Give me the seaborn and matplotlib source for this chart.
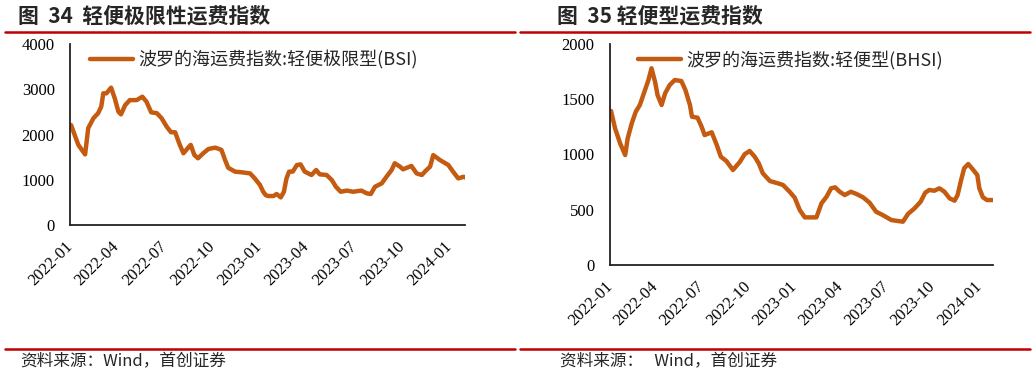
import matplotlib
matplotlib.use("Agg")
import matplotlib.pyplot as plt
import matplotlib.dates as mdates
from matplotlib.lines import Line2D
import pandas as pd
import seaborn as sns

# ---------------- data ----------------
bsi_dates = ["2022-01-03","2022-01-17","2022-01-30","2022-02-05","2022-02-15","2022-02-24","2022-03-02","2022-03-06","2022-03-12","2022-03-21",
             "2022-03-28","2022-04-04","2022-04-09","2022-04-17","2022-04-26","2022-05-09","2022-05-20","2022-05-28","2022-06-06","2022-06-17",
             "2022-06-26","2022-07-06","2022-07-14","2022-07-22","2022-07-31","2022-08-07","2022-08-15","2022-08-21","2022-08-28","2022-09-04",
             "2022-09-14","2022-09-24","2022-10-07","2022-10-19","2022-10-26","2022-11-01","2022-11-14","2022-11-27","2022-12-13","2022-12-22",
             "2023-01-01","2023-01-07","2023-01-12","2023-01-17","2023-01-27","2023-02-02","2023-02-10","2023-02-16","2023-02-21","2023-02-26",
             "2023-03-05","2023-03-13","2023-03-20","2023-03-28","2023-04-10","2023-04-19","2023-04-26","2023-05-09","2023-05-19","2023-05-27",
             "2023-06-05","2023-06-17","2023-06-29","2023-07-15","2023-07-25","2023-08-02","2023-08-10","2023-08-23","2023-09-01","2023-09-11",
             "2023-09-17","2023-09-27","2023-10-03","2023-10-19","2023-10-29","2023-11-08","2023-11-17","2023-11-24","2023-11-30","2023-12-13",
             "2023-12-29","2024-01-07","2024-01-17","2024-01-27","2024-01-31"]
bsi_values = [2210,1770,1560,2140,2360,2470,2615,2910,2910,3035,
              2800,2505,2445,2650,2760,2760,2835,2725,2490,2470,
              2360,2170,2050,2050,1770,1585,1695,1770,1545,1475,
              1585,1680,1710,1660,1435,1265,1180,1165,1140,1030,
              885,740,660,640,640,685,610,735,1030,1180,
              1180,1325,1340,1180,1105,1215,1120,1105,995,845,
              735,760,735,760,700,685,845,920,1065,1215,
              1365,1290,1230,1305,1140,1105,1215,1290,1545,1435,
              1325,1180,1030,1065,1050]

bhsi_dates = ["2022-01-03","2022-01-11","2022-01-21","2022-01-31","2022-02-05","2022-02-13","2022-02-21","2022-03-01","2022-03-10","2022-03-18",
              "2022-03-24","2022-03-31","2022-04-05","2022-04-13","2022-04-20","2022-04-29","2022-05-09","2022-05-22","2022-05-30","2022-06-08",
              "2022-06-12","2022-06-23","2022-07-01","2022-07-07","2022-07-21","2022-07-31","2022-08-08","2022-08-19","2022-09-01","2022-09-15",
              "2022-09-24","2022-10-04","2022-10-14","2022-10-22","2022-10-30","2022-11-13","2022-11-29","2022-12-09","2022-12-22","2023-01-01",
              "2023-01-11","2023-01-21","2023-01-31","2023-02-13","2023-02-23","2023-03-05","2023-03-14","2023-03-22","2023-03-31","2023-04-10",
              "2023-04-22","2023-05-03","2023-05-16","2023-05-29","2023-06-11","2023-06-24","2023-07-11","2023-07-24","2023-08-03","2023-08-13",
              "2023-08-26","2023-09-07","2023-09-16","2023-09-24","2023-10-04","2023-10-14","2023-10-24","2023-11-03","2023-11-13","2023-11-19",
              "2023-11-26","2023-12-02","2023-12-10","2023-12-19","2023-12-28","2024-01-01","2024-01-08","2024-01-16","2024-01-27"]
bhsi_values = [1394,1237,1101,995,1147,1282,1388,1448,1568,1674,
               1780,1659,1538,1448,1554,1629,1674,1665,1584,1448,
               1342,1333,1252,1176,1201,1086,980,941,860,935,
               1002,1032,980,920,830,760,739,724,663,610,
               498,431,431,431,558,618,694,703,663,633,
               663,643,613,564,482,452,407,398,392,462,
               513,573,654,679,672,694,663,604,582,633,
               769,875,914,866,814,694,613,588,588]

tick_dates = ["2022-01-01","2022-04-01","2022-07-01","2022-10-01","2023-01-01",
              "2023-04-01","2023-07-01","2023-10-01","2024-01-01"]

titles = ["图  34  轻便极限性运费指数", "图  35 轻便型运费指数"]
legend_labels = ["波罗的海运费指数:轻便极限型(BSI)", "波罗的海运费指数:轻便型(BHSI)"]
sources = ["资料来源：Wind，首创证券", "资料来源：   Wind，首创证券"]

# ---------------- style ----------------
sns.set_style("white")
plt.rcParams['font.family'] = ['Liberation Serif', 'Noto Sans CJK SC', 'DejaVu Sans']
CJK = ['Noto Sans CJK SC', 'DejaVu Sans']
LINE_C = '#C55A11'
RED = '#C00000'

fig = plt.figure(figsize=(10.36, 3.77), dpi=100)
W, H = 1036, 377

def fx(px):
    return px / W

def fy(py):
    return 1 - py / H

panels = [
    dict(dates=bsi_dates, vals=bsi_values, x0=70, x1=465, ytop=44, ybot=225,
         ymax=4000, ystep=1000, xend="2024-01-30", leg=(90, 60)),
    dict(dates=bhsi_dates, vals=bhsi_values, x0=610, x1=993, ytop=44, ybot=265,
         ymax=2000, ystep=500, xend="2024-01-28", leg=(638, 60)),
]

for i, p in enumerate(panels):
    ax = fig.add_axes([fx(p['x0']), fy(p['ybot']), fx(p['x1'] - p['x0']), (p['ybot'] - p['ytop']) / H])
    df = pd.DataFrame({'date': pd.to_datetime(p['dates']), 'value': p['vals']})
    sns.lineplot(data=df, x='date', y='value', ax=ax, color=LINE_C, linewidth=3.2,
                 label=legend_labels[i])
    ax.set_xlim(pd.Timestamp("2022-01-01"), pd.Timestamp(p['xend']))
    ax.set_ylim(0, p['ymax'])
    ax.set_yticks(list(range(0, p['ymax'] + 1, p['ystep'])))
    ax.set_xticks(pd.to_datetime(tick_dates))
    ax.xaxis.set_major_formatter(mdates.DateFormatter('%Y-%m'))
    ax.set_xlabel('')
    ax.set_ylabel('')
    for s in ['top', 'right']:
        ax.spines[s].set_visible(False)
    for s in ['left', 'bottom']:
        ax.spines[s].set_color('#222222')
        ax.spines[s].set_linewidth(1.3)
    ax.tick_params(axis='both', direction='in', length=4, width=1.2, color='#222222',
                   labelsize=12, labelcolor='black')
    ax.tick_params(axis='y', pad=11)
    ax.tick_params(axis='x', pad=14)
    for lab in ax.get_xticklabels():
        lab.set_rotation(45)
        lab.set_ha('right')
        lab.set_va('center')
        lab.set_rotation_mode('anchor')
    lx = (p['leg'][0] - p['x0']) / (p['x1'] - p['x0'])
    ly = (p['ybot'] - p['leg'][1]) / (p['ybot'] - p['ytop'])
    ax.legend(loc='center left', bbox_to_anchor=(lx, ly), frameon=False,
              prop={'family': CJK, 'size': 13, 'weight': 'light'}, handlelength=2.4, handletextpad=0.3,
              borderpad=0, borderaxespad=0)

# titles
fig.text(fx(18), fy(16), titles[0], family=CJK, fontsize=15, fontweight='bold', va='center', ha='left')
fig.text(fx(557), fy(16), titles[1], family=CJK, fontsize=15, fontweight='bold', va='center', ha='left')

# red rules
for (a, b) in [(5, 515), (520, 1030)]:
    fig.add_artist(Line2D([fx(a), fx(b)], [fy(32), fy(32)], transform=fig.transFigure, color=RED, lw=1.8))
    fig.add_artist(Line2D([fx(a), fx(b)], [fy(349), fy(349)], transform=fig.transFigure, color=RED, lw=1.8))

# sources
fig.text(fx(20), fy(362), sources[0], family=CJK, fontsize=12, style='italic', va='center', ha='left')
fig.text(fx(560), fy(362), sources[1], family=CJK, fontsize=12, style='italic', va='center', ha='left')

fig.savefig('out.png', dpi=100)
